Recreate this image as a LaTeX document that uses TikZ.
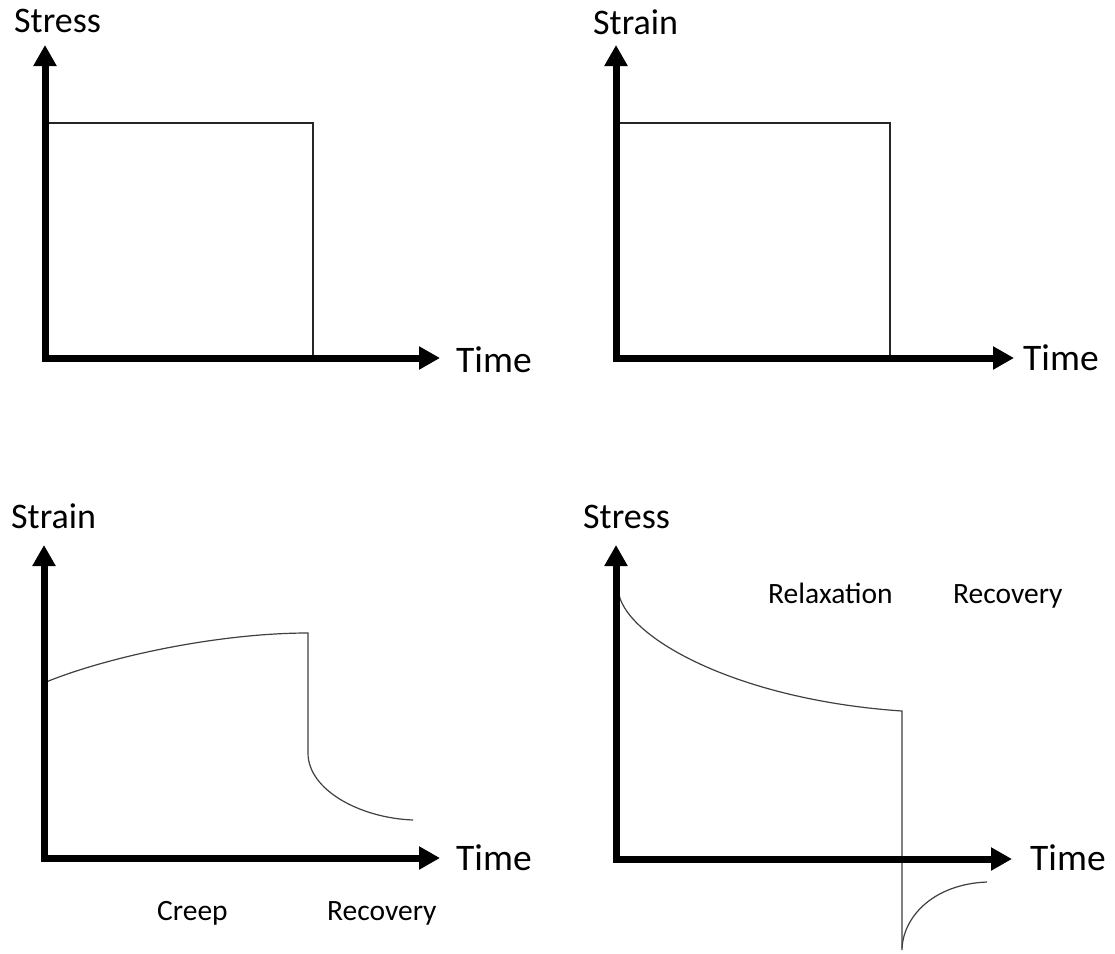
\documentclass[tikz,border=0pt]{standalone}
\usepackage{fontspec}
\setmainfont{Carlito}
\usetikzlibrary{arrows.meta}
\begin{document}
\begin{tikzpicture}[x=1pt,y=-1pt,
  axis/.style={line width=7pt, line cap=rect, -{Triangle[width=22pt,length=21pt]}},
  thin/.style={line width=1.3pt, black!85},
  curve/.style={line width=1.2pt, black!75},
  ylab/.style={font=\fontsize{36}{40}\selectfont, anchor=base west, inner sep=0pt},
  tlab/.style={font=\fontsize{37.5}{42}\selectfont, anchor=base west, inner sep=0pt},
  slab/.style={font=\fontsize{29.5}{34}\selectfont, anchor=base west, inner sep=0pt}]
\useasboundingbox[fill=white] (0,0) rectangle (1115,953);

% ---------- Panel 1: stress step ----------
\coordinate (o1) at (45,358);
\coordinate (y1) at (45,45);
\coordinate (x1) at (440,358);
\coordinate (a1) at (45,123);
\coordinate (b1) at (313,123);
\coordinate (c1) at (313,358);
\draw[thin] (a1) -- (b1) -- (c1);
\draw[axis] (o1) -- (y1);
\draw[axis] (o1) -- (x1);
\node[ylab] (ly1) at (14,32) {Stress};
\node[tlab] (lx1) at (456,372) {Time};

% ---------- Panel 2: strain step ----------
\coordinate (o2) at (616,358);
\coordinate (y2) at (616,45);
\coordinate (x2) at (1014,358);
\coordinate (a2) at (616,123);
\coordinate (b2) at (890,123);
\coordinate (c2) at (890,358);
\draw[thin] (a2) -- (b2) -- (c2);
\draw[axis] (o2) -- (y2);
\draw[axis] (o2) -- (x2);
\node[ylab] (ly2) at (593,34) {Strain};
\node[tlab] (lx2) at (1023,370) {Time};

% ---------- Panel 3: creep and recovery ----------
\coordinate (o3) at (44,858);
\coordinate (y3) at (44,545);
\coordinate (x3) at (440,858);
\coordinate (p3a) at (46,682);
\coordinate (p3b) at (308,633);
\coordinate (p3c) at (308,753);
\coordinate (p3d) at (413,820);
\draw[curve] (p3a) .. controls (110,656) and (220,633) .. (p3b) -- (p3c)
  .. controls (308,790) and (360,818) .. (p3d);
\draw[axis] (o3) -- (y3);
\draw[axis] (o3) -- (x3);
\node[ylab] (ly3) at (11,528) {Strain};
\node[tlab] (lx3) at (456,870) {Time};
\node[slab] (creep) at (157,920) {Creep};
\node[slab] (rec3) at (327,920) {Recovery};

% ---------- Panel 4: relaxation and recovery ----------
\coordinate (o4) at (616,859);
\coordinate (y4) at (616,545);
\coordinate (x4) at (1012,859);
\coordinate (p4a) at (619,595);
\coordinate (p4b) at (902,711);
\coordinate (p4c) at (902,950);
\coordinate (p4d) at (902,948);
\coordinate (p4e) at (987,882);
\draw[curve] (p4a) .. controls (630,640) and (740,700) .. (p4b) -- (p4c);
\draw[curve] (p4d) .. controls (904,915) and (935,884) .. (p4e);
\draw[axis] (o4) -- (y4);
\draw[axis] (o4) -- (x4);
\node[ylab] (ly4) at (583,528) {Stress};
\node[tlab] (lx4) at (1030,870) {Time};
\node[slab] (relax) at (768,603) {Relaxation};
\node[slab] (rec4) at (953,603) {Recovery};
\end{tikzpicture}
\end{document}
